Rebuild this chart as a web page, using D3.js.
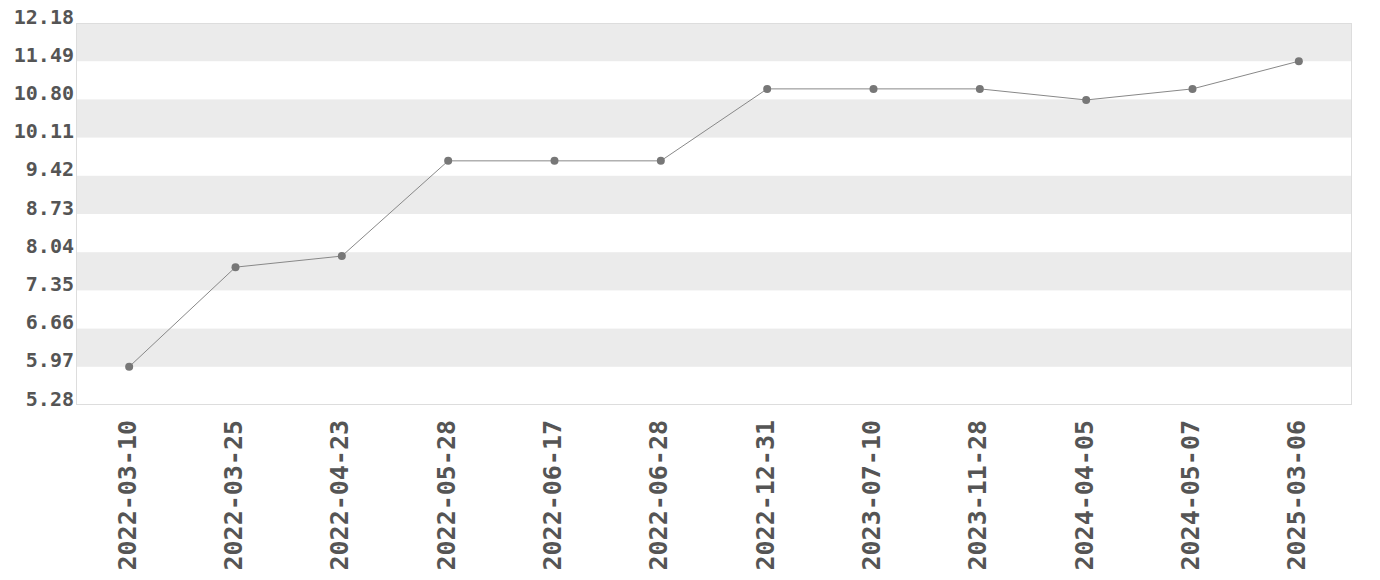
<!DOCTYPE html>
<html>
<head>
<meta charset="utf-8">
<script src="https://cdn.jsdelivr.net/npm/d3@7"></script>
<style>
html,body{margin:0;padding:0;background:#fff;}
svg{display:block;}
</style>
</head>
<body>
<svg id="chart" width="1380" height="580"></svg>
<script>
const dates = ["2022-03-10","2022-03-25","2022-04-23","2022-05-28","2022-06-17","2022-06-28","2022-12-31","2023-07-10","2023-11-28","2024-04-05","2024-05-07","2025-03-06"];
const values = [5.97, 7.77, 7.97, 9.69, 9.69, 9.69, 10.99, 10.99, 10.99, 10.79, 10.99, 11.49];
const yTicks = [5.28, 5.97, 6.66, 7.35, 8.04, 8.73, 9.42, 10.11, 10.80, 11.49, 12.18];

const svg = d3.select("#chart");
const m = {left: 76, right: 1352, top: 23, bottom: 405};
const font = "'DejaVu Sans Mono', monospace";

const x = d3.scalePoint().domain(dates).range([m.left, m.right]).padding(0.5);
const y = d3.scaleLinear().domain([yTicks[0], yTicks[yTicks.length-1]]).range([m.bottom, m.top]);

// bands
const g = svg.append("g");
for (let i = 0; i < yTicks.length - 1; i++) {
  if ((yTicks.length - 2 - i) % 2 === 0) {
    g.append("rect")
      .attr("x", m.left).attr("width", m.right - m.left)
      .attr("y", y(yTicks[i+1])).attr("height", y(yTicks[i]) - y(yTicks[i+1]))
      .attr("fill", "#ebebeb");
  }
}
svg.append("rect")
  .attr("x", m.left + 0.5).attr("y", m.top + 0.5)
  .attr("width", m.right - m.left - 1).attr("height", m.bottom - m.top - 1)
  .attr("fill", "none").attr("stroke", "#dddddd").attr("stroke-width", 1);

// y axis labels
const yAxis = d3.axisLeft(y).tickValues(yTicks).tickFormat(d3.format(".2f")).tickSize(0).tickPadding(2);
const ya = svg.append("g").attr("transform", `translate(${m.left},0)`).call(yAxis);
ya.select(".domain").remove();
ya.selectAll("text")
  .attr("dy", "0")
  .attr("fill", "#555")
  .style("font-family", font).style("font-weight", "bold").style("font-size", "20px");

// x axis labels
const xAxis = d3.axisBottom(x).tickSize(0).tickPadding(0);
const xa = svg.append("g").attr("transform", `translate(0,${m.bottom})`).call(xAxis);
xa.select(".domain").remove();
xa.selectAll("text")
  .attr("transform", "rotate(-90)")
  .attr("text-anchor", "end")
  .attr("x", -15).attr("y", 0).attr("dy", "6px")
  .attr("fill", "#555")
  .style("font-family", font).style("font-weight", "bold").style("font-size", "25px");

// line
const line = d3.line().x((d, i) => x(dates[i])).y(d => y(d));
svg.append("path").datum(values)
  .attr("d", line).attr("fill", "none")
  .attr("stroke", "#888").attr("stroke-width", 1);

svg.selectAll("circle.pt").data(values).enter().append("circle")
  .attr("class", "pt")
  .attr("cx", (d, i) => x(dates[i])).attr("cy", d => y(d))
  .attr("r", 4).attr("fill", "#777");
</script>
</body>
</html>
